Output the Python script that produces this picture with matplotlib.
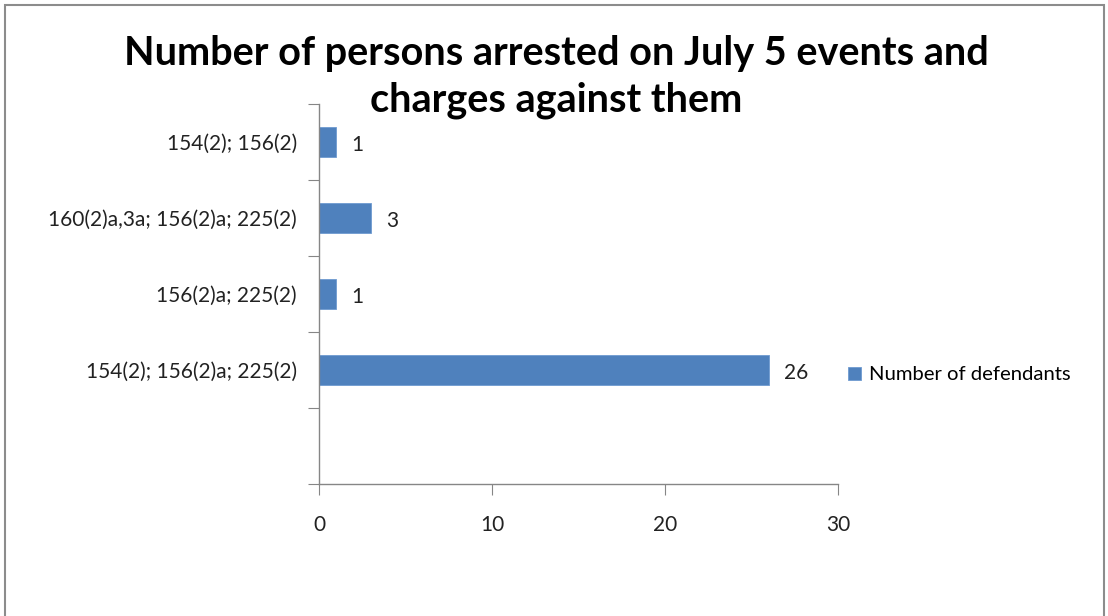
import numpy as np
import matplotlib
matplotlib.use("Agg")
import matplotlib.pyplot as plt
from matplotlib.patches import Rectangle

# data (bottom to top, the bottom slot is empty in the original)
charges = ["", "154(2); 156(2)a; 225(2)", "156(2)a; 225(2)",
           "160(2)a,3a; 156(2)a; 225(2)", "154(2); 156(2)"]
defendants = [np.nan, 26, 1, 3, 1]
series_name = "Number of defendants"
title = "Number of persons arrested on July 5 events and\ncharges against them"
x_ticks = [0, 10, 20, 30]

W, H = 1108, 616
plt.rcParams['font.family'] = ['Lato', 'DejaVu Sans']
fig = plt.figure(figsize=(W / 100, H / 100), dpi=100)
ax = fig.add_axes([319 / W, 1 - 484 / H, (838 - 319) / W, (484 - 104) / H])

axis_col = "#868686"
bar_col = "#4F81BD"
txt_col = "#222222"
fs = 15
pos = np.arange(len(charges))
bars = ax.barh(pos, defendants, height=0.4, color=bar_col, edgecolor="#6F9BD0", linewidth=0.6)
for b, v in zip(bars, defendants):
    if not np.isnan(v):
        ax.annotate(f"{int(v)}", (b.get_width(), b.get_y() + b.get_height() / 2),
                    xytext=(11, -2), textcoords="offset points", va="center", ha="left",
                    fontsize=fs, color=txt_col)

ax.set_xlim(0, 30)
ax.set_ylim(-0.5, len(charges) - 0.5)
ax.set_xticks(x_ticks)
ax.set_xticklabels([str(t) for t in x_ticks], fontsize=fs, color=txt_col)
ax.tick_params(axis="x", direction="out", length=8, color=axis_col, pad=14)

# category boundaries as ticks, labels in the middle
ax.set_yticks(np.arange(len(charges) + 1) - 0.5)
ax.set_yticklabels([])
ax.set_yticks(pos, minor=True)
ax.set_yticklabels(charges, minor=True, fontsize=fs, color=txt_col)
ax.tick_params(axis="y", which="major", direction="out", length=8, color=axis_col)
ax.tick_params(axis="y", which="minor", length=0, pad=16)

for s in ["top", "right"]:
    ax.spines[s].set_visible(False)
for s in ["left", "bottom"]:
    ax.spines[s].set_color(axis_col)
    ax.spines[s].set_linewidth(1)

fig.text(556 / W, 1 - 77 / H, title, ha="center", va="center", fontsize=28.5,
         fontweight="bold", linespacing=1.3, color="black")

fig.legend([bars], [series_name], loc="center left",
           bbox_to_anchor=(830 / W, 1 - 375 / H), frameon=False, fontsize=14.6,
           handlelength=0.65, handleheight=0.65, handletextpad=0.35)

fig.patches.append(Rectangle((5 / W, -0.1), (1104 - 5) / W, 1.1 - 5 / H,
                             transform=fig.transFigure, fill=False,
                             edgecolor="#8c8c8c", linewidth=1.5))

fig.savefig("out.png", dpi=100)
